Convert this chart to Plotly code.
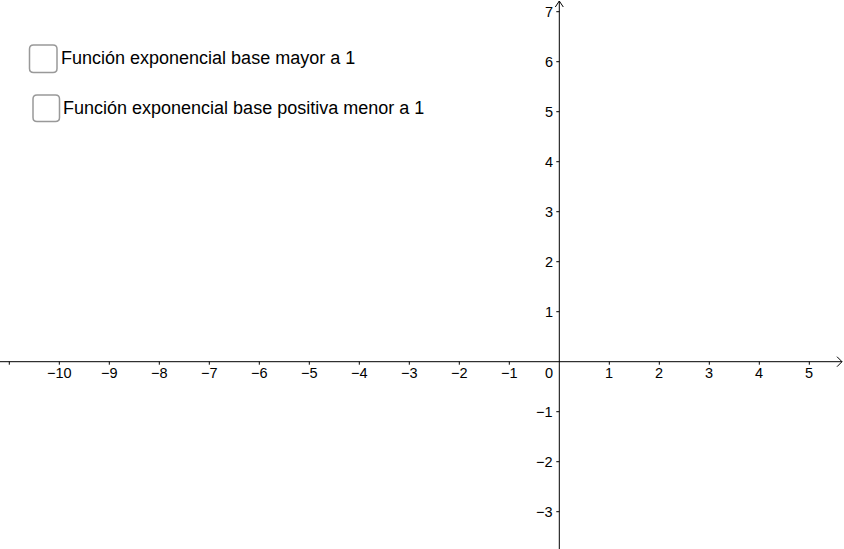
import plotly.graph_objects as go

# valores de las marcas de los ejes
x_ticks = [-11, -10, -9, -8, -7, -6, -5, -4, -3, -2, -1, 1, 2, 3, 4, 5]
x_labels = ["", "−10", "−9", "−8", "−7", "−6", "−5", "−4", "−3", "−2", "−1",
            "1", "2", "3", "4", "5"]
y_ticks = [-3, -2, -1, 1, 2, 3, 4, 5, 6, 7]
y_labels = ["−3", "−2", "−1", "1", "2", "3", "4", "5", "6", "7"]

# casillas de verificación (texto)
casillas = ["Función exponencial base mayor a 1",
            "Función exponencial base positiva menor a 1"]

W, H = 844, 549
X0, Y0, ESC = 559.3, 361.7, 50.0  # origen en pixeles y pixeles por unidad


def px2x(p):
    return (p - X0) / ESC


def py2y(p):
    return (Y0 - p) / ESC


fig = go.Figure()
fig.add_trace(go.Scatter(x=[None], y=[None], showlegend=False, hoverinfo="skip"))

fuente = dict(family="Liberation Sans, Arial, sans-serif", color="#000000")
shapes = []
annotations = []

# ejes
shapes.append(dict(type="line", xref="paper", yref="y", x0=0, x1=1 - 2 / W, y0=0, y1=0,
                   line=dict(color="black", width=1)))
shapes.append(dict(type="line", xref="x", yref="paper", x0=0, x1=0, y0=0, y1=1 - 1 / H,
                   line=dict(color="black", width=1)))
# flechas
shapes.append(dict(type="path", xref="paper", yref="y", xsizemode="pixel", ysizemode="pixel",
                   xanchor=1, yanchor=0, path="M -7,5 L -2,0 L -7,-5",
                   line=dict(color="black", width=1)))
shapes.append(dict(type="path", xref="x", yref="paper", xsizemode="pixel", ysizemode="pixel",
                   xanchor=0, yanchor=1, path="M -4,-7 L 0,-1 L 4,-7",
                   line=dict(color="black", width=1)))

# marcas y etiquetas del eje x
for v, t in zip(x_ticks, x_labels):
    shapes.append(dict(type="line", xref="x", yref="y", ysizemode="pixel", yanchor=0,
                       x0=v, x1=v, y0=0, y1=-3, line=dict(color="black", width=1)))
    if t:
        annotations.append(dict(x=v, y=0, xref="x", yref="y", text=t, showarrow=False,
                                xanchor="center", yanchor="top", yshift=-1.5,
                                font=dict(size=14.5, **fuente)))
annotations.append(dict(x=0, y=0, xref="x", yref="y", text="0", showarrow=False,
                        xanchor="right", yanchor="top", xshift=-4, yshift=-1.5,
                        font=dict(size=14.5, **fuente)))

# marcas y etiquetas del eje y
for v, t in zip(y_ticks, y_labels):
    shapes.append(dict(type="line", xref="x", yref="y", xsizemode="pixel", xanchor=0,
                       x0=-3, x1=0, y0=v, y1=v, line=dict(color="black", width=1)))
    annotations.append(dict(x=0, y=v, xref="x", yref="y", text=t, showarrow=False,
                            xanchor="right", yanchor="middle", xshift=-4,
                            font=dict(size=14.5, **fuente)))

# casillas (posiciones en pixeles de la ventana)
cajas = [(29.5, 45, 57, 72.5), (33, 95, 59.5, 121.5)]
r = 4
for (a, b, c, d), txt in zip(cajas, casillas):
    path = (f"M {a + r},{b} L {c - r},{b} Q {c},{b} {c},{b + r} L {c},{d - r} "
            f"Q {c},{d} {c - r},{d} L {a + r},{d} Q {a},{d} {a},{d - r} "
            f"L {a},{b + r} Q {a},{b} {a + r},{b} Z")
    out = []
    for tok in path.split(" "):
        if "," in tok:
            px, py = tok.split(",")
            out.append(f"{px2x(float(px)):.4f},{py2y(float(py)):.4f}")
        else:
            out.append(tok)
    shapes.append(dict(type="path", xref="x", yref="y", path=" ".join(out),
                       line=dict(color="#999999", width=1.5), fillcolor="white"))
    annotations.append(dict(x=px2x(c + 1.5), y=py2y((b + d) / 2 - 0.5), xref="x", yref="y",
                            text=txt, showarrow=False, xanchor="left", yanchor="middle",
                            font=dict(size=18, **fuente)))

fig.update_layout(
    width=W, height=H,
    margin=dict(l=0, r=0, t=0, b=0),
    paper_bgcolor="white", plot_bgcolor="white",
    xaxis=dict(range=[-X0 / ESC, (W - X0) / ESC], visible=False, fixedrange=True),
    yaxis=dict(range=[(Y0 - H) / ESC, Y0 / ESC], visible=False, fixedrange=True),
    shapes=shapes, annotations=annotations,
    showlegend=False,
)

fig.write_html("out.html", config={"displayModeBar": False},
               post_script="document.body.style.margin='0';document.body.style.overflow='hidden';")
